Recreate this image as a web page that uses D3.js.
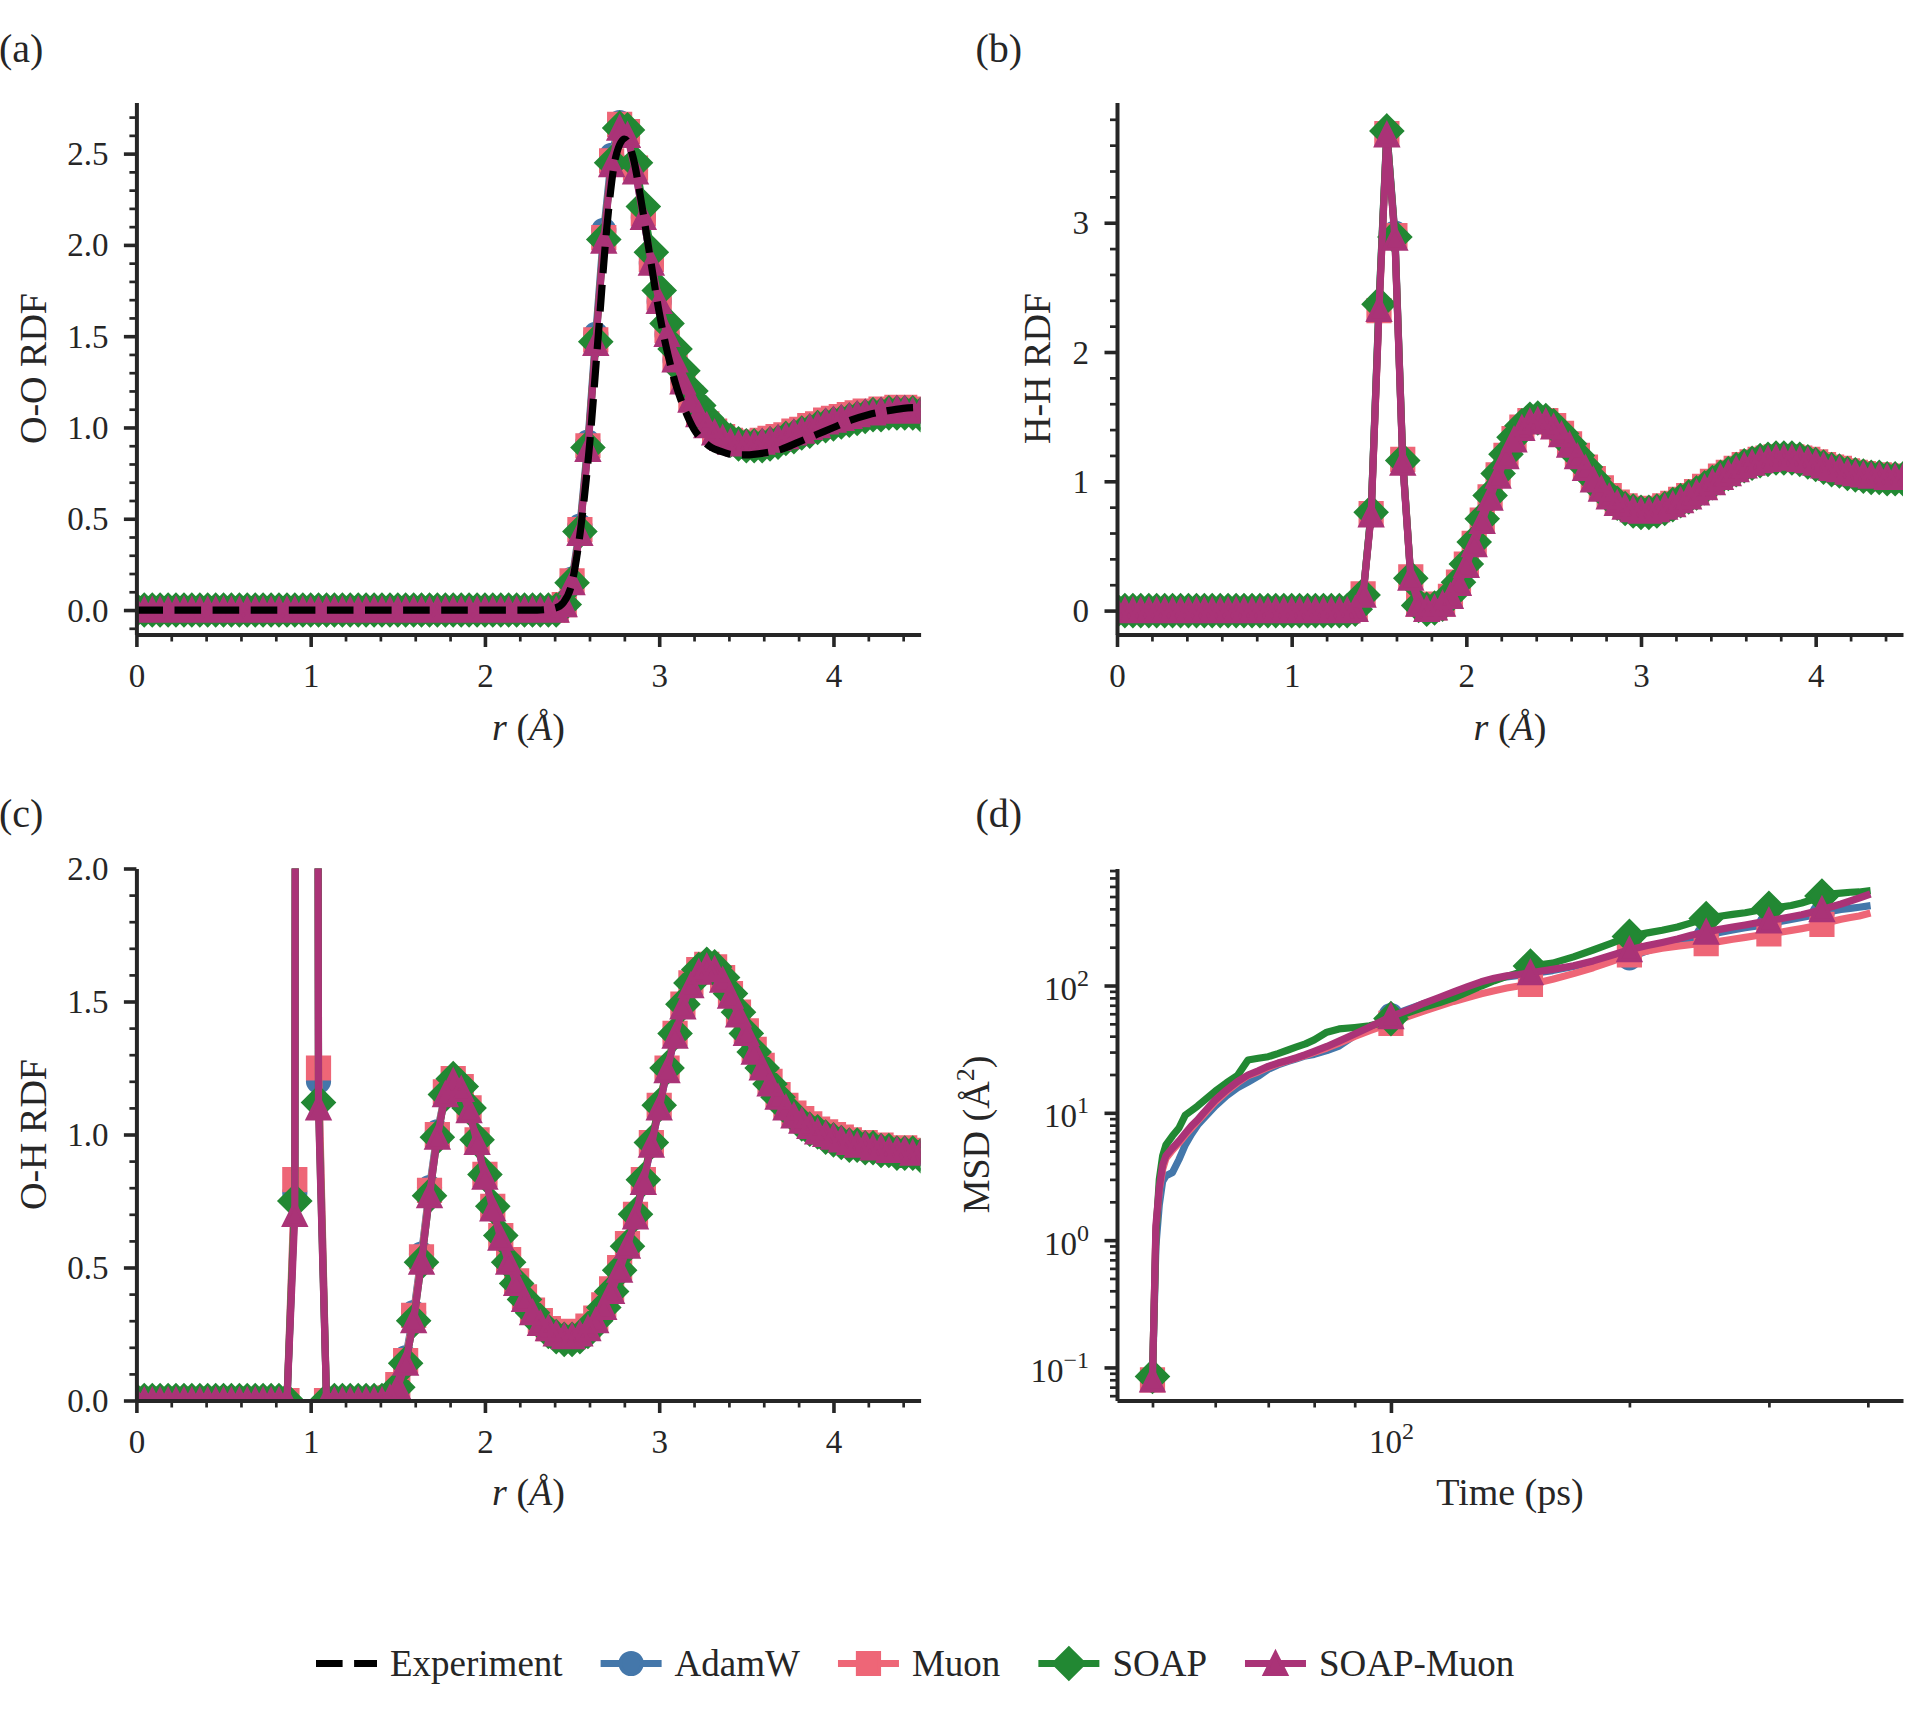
<!DOCTYPE html>
<html>
<head>
<meta charset="utf-8">
<script src="https://cdn.jsdelivr.net/npm/d3@7"></script>
<style>
  body { margin: 0; background: #fff; }
  svg { display: block; }
</style>
</head>
<body>
<svg id="fig" width="1928" height="1725"></svg>
<script>
// ---------------- data ----------------
var optNames = ["AdamW", "Muon", "SOAP", "SOAP-Muon"];

// r grid of the simulated RDFs (Å)
var rGrid = [
  0, 0.045, 0.091, 0.136, 0.182, 0.227, 0.273, 0.318, 0.364, 0.409,
  0.455, 0.5, 0.545, 0.591, 0.636, 0.682, 0.727, 0.773, 0.818, 0.864,
  0.909, 0.955, 1.0, 1.045, 1.091, 1.136, 1.182, 1.227, 1.273, 1.318,
  1.364, 1.409, 1.455, 1.5, 1.545, 1.591, 1.636, 1.682, 1.727, 1.773,
  1.818, 1.864, 1.909, 1.955, 2.0, 2.045, 2.091, 2.136, 2.182, 2.227,
  2.273, 2.318, 2.364, 2.409, 2.455, 2.5, 2.545, 2.591, 2.636, 2.682,
  2.727, 2.773, 2.818, 2.864, 2.909, 2.955, 3.0, 3.045, 3.091, 3.136,
  3.182, 3.227, 3.273, 3.318, 3.364, 3.409, 3.455, 3.5, 3.545, 3.591,
  3.636, 3.682, 3.727, 3.773, 3.818, 3.864, 3.909, 3.955, 4.0, 4.045,
  4.091, 4.136, 4.182, 4.227, 4.273, 4.318, 4.364, 4.409, 4.455, 4.5
];

// (a) O-O RDF
var ooAdamW = [
  0, 0, 0, 0, 0, 0, 0, 0, 0, 0,
  0, 0, 0, 0, 0, 0, 0, 0, 0, 0,
  0, 0, 0, 0, 0, 0, 0, 0, 0, 0,
  0, 0, 0, 0, 0, 0, 0, 0, 0, 0,
  0, 0, 0, 0, 0, 0, 0, 0, 0, 0,
  0, 0, 0, 0, 0.04, 0.17, 0.46, 0.92, 1.51, 2.08,
  2.49, 2.67, 2.61, 2.41, 2.15, 1.90, 1.69, 1.51, 1.37, 1.25,
  1.15, 1.07, 1.01, 0.97, 0.94, 0.92, 0.91, 0.91, 0.92, 0.92,
  0.93, 0.95, 0.96, 0.97, 0.99, 1.00, 1.02, 1.03, 1.04, 1.05,
  1.06, 1.07, 1.08, 1.09, 1.09, 1.10, 1.10, 1.10, 1.10, 1.09
];
var ooMuon = [
  0, 0, 0, 0, 0, 0, 0, 0, 0, 0,
  0, 0, 0, 0, 0, 0, 0, 0, 0, 0,
  0, 0, 0, 0, 0, 0, 0, 0, 0, 0,
  0, 0, 0, 0, 0, 0, 0, 0, 0, 0,
  0, 0, 0, 0, 0, 0, 0, 0, 0, 0,
  0, 0, 0, 0, 0.03, 0.16, 0.44, 0.90, 1.48, 2.04,
  2.46, 2.66, 2.62, 2.42, 2.17, 1.92, 1.71, 1.53, 1.38, 1.26,
  1.16, 1.08, 1.02, 0.98, 0.95, 0.93, 0.92, 0.92, 0.92, 0.93,
  0.94, 0.95, 0.96, 0.98, 0.99, 1.01, 1.02, 1.04, 1.05, 1.06,
  1.07, 1.08, 1.09, 1.09, 1.10, 1.10, 1.11, 1.11, 1.10, 1.10
];
var ooSOAP = [
  0, 0, 0, 0, 0, 0, 0, 0, 0, 0,
  0, 0, 0, 0, 0, 0, 0, 0, 0, 0,
  0, 0, 0, 0, 0, 0, 0, 0, 0, 0,
  0, 0, 0, 0, 0, 0, 0, 0, 0, 0,
  0, 0, 0, 0, 0, 0, 0, 0, 0, 0,
  0, 0, 0, 0, 0.03, 0.15, 0.43, 0.89, 1.47, 2.03,
  2.45, 2.64, 2.63, 2.45, 2.21, 1.96, 1.75, 1.57, 1.43, 1.31,
  1.20, 1.12, 1.05, 1.00, 0.96, 0.93, 0.91, 0.90, 0.90, 0.90,
  0.91, 0.92, 0.94, 0.95, 0.97, 0.98, 1.00, 1.01, 1.02, 1.03,
  1.04, 1.05, 1.06, 1.07, 1.07, 1.08, 1.08, 1.08, 1.08, 1.07
];
var ooSOAPMuon = [
  0, 0, 0, 0, 0, 0, 0, 0, 0, 0,
  0, 0, 0, 0, 0, 0, 0, 0, 0, 0,
  0, 0, 0, 0, 0, 0, 0, 0, 0, 0,
  0, 0, 0, 0, 0, 0, 0, 0, 0, 0,
  0, 0, 0, 0, 0, 0, 0, 0, 0, 0,
  0, 0, 0, 0, 0.03, 0.15, 0.42, 0.88, 1.46, 2.02,
  2.44, 2.64, 2.60, 2.40, 2.15, 1.90, 1.69, 1.51, 1.37, 1.25,
  1.15, 1.07, 1.01, 0.97, 0.94, 0.92, 0.91, 0.91, 0.91, 0.92,
  0.93, 0.94, 0.95, 0.97, 0.98, 1.00, 1.01, 1.03, 1.04, 1.05,
  1.06, 1.07, 1.08, 1.08, 1.09, 1.09, 1.10, 1.10, 1.09, 1.09
];
// experimental O-O RDF
var expR = [0, 0.5, 1.0, 1.5, 2.0, 2.3, 2.4, 2.45, 2.5, 2.55, 2.6, 2.65, 2.7, 2.75, 2.8,
            2.85, 2.9, 2.95, 3.0, 3.05, 3.1, 3.15, 3.2, 3.25, 3.3, 3.35, 3.4, 3.45, 3.5,
            3.6, 3.7, 3.8, 3.9, 4.0, 4.1, 4.2, 4.3, 4.4, 4.5];
var expOO = [0, 0, 0, 0, 0, 0, 0.01, 0.04, 0.15, 0.45, 0.9, 1.5, 2.1, 2.48, 2.58,
             2.48, 2.22, 1.92, 1.63, 1.4, 1.22, 1.09, 0.99, 0.93, 0.89, 0.87, 0.855, 0.85, 0.85,
             0.86, 0.88, 0.92, 0.96, 1.0, 1.04, 1.07, 1.09, 1.105, 1.11];

// (b) H-H RDF
var hhAdamW = [
  0, 0, 0, 0, 0, 0, 0, 0, 0, 0,
  0, 0, 0, 0, 0, 0, 0, 0, 0, 0,
  0, 0, 0, 0, 0, 0, 0, 0, 0, 0,
  0.01, 0.13, 0.76, 2.36, 3.70, 2.92, 1.16, 0.26, 0.05, 0.01,
  0.02, 0.05, 0.11, 0.21, 0.35, 0.52, 0.70, 0.88, 1.05, 1.20,
  1.33, 1.42, 1.46, 1.47, 1.46, 1.42, 1.36, 1.28, 1.19, 1.10,
  1.01, 0.94, 0.88, 0.83, 0.80, 0.78, 0.77, 0.77, 0.78, 0.80,
  0.82, 0.85, 0.88, 0.92, 0.96, 1.00, 1.03, 1.07, 1.10, 1.12,
  1.14, 1.16, 1.18, 1.18, 1.19, 1.18, 1.17, 1.16, 1.14, 1.12,
  1.10, 1.09, 1.07, 1.06, 1.05, 1.04, 1.04, 1.03, 1.03, 1.03
];
var hhMuon = [
  0, 0, 0, 0, 0, 0, 0, 0, 0, 0,
  0, 0, 0, 0, 0, 0, 0, 0, 0, 0,
  0, 0, 0, 0, 0, 0, 0, 0, 0, 0,
  0.01, 0.13, 0.75, 2.32, 3.69, 2.90, 1.17, 0.26, 0.05, 0.01,
  0.02, 0.05, 0.11, 0.22, 0.36, 0.52, 0.70, 0.88, 1.05, 1.20,
  1.33, 1.42, 1.47, 1.48, 1.47, 1.43, 1.37, 1.29, 1.20, 1.11,
  1.02, 0.95, 0.89, 0.84, 0.81, 0.79, 0.78, 0.78, 0.79, 0.81,
  0.83, 0.86, 0.89, 0.92, 0.96, 1.00, 1.04, 1.07, 1.10, 1.13,
  1.15, 1.17, 1.18, 1.19, 1.19, 1.19, 1.18, 1.17, 1.15, 1.13,
  1.11, 1.10, 1.08, 1.07, 1.06, 1.05, 1.05, 1.04, 1.04, 1.04
];
var hhSOAP = [
  0, 0, 0, 0, 0, 0, 0, 0, 0, 0,
  0, 0, 0, 0, 0, 0, 0, 0, 0, 0,
  0, 0, 0, 0, 0, 0, 0, 0, 0, 0,
  0.01, 0.12, 0.76, 2.37, 3.71, 2.89, 1.16, 0.25, 0.04, 0.01,
  0.02, 0.05, 0.12, 0.22, 0.36, 0.53, 0.71, 0.89, 1.06, 1.21,
  1.34, 1.43, 1.48, 1.49, 1.47, 1.43, 1.37, 1.29, 1.20, 1.11,
  1.02, 0.94, 0.88, 0.83, 0.79, 0.77, 0.76, 0.76, 0.77, 0.79,
  0.82, 0.85, 0.88, 0.91, 0.95, 0.99, 1.03, 1.06, 1.09, 1.12,
  1.14, 1.16, 1.17, 1.18, 1.18, 1.18, 1.17, 1.15, 1.13, 1.11,
  1.09, 1.08, 1.06, 1.05, 1.04, 1.03, 1.03, 1.02, 1.02, 1.02
];
var hhSOAPMuon = [
  0, 0, 0, 0, 0, 0, 0, 0, 0, 0,
  0, 0, 0, 0, 0, 0, 0, 0, 0, 0,
  0, 0, 0, 0, 0, 0, 0, 0, 0, 0,
  0.01, 0.12, 0.74, 2.33, 3.68, 2.88, 1.14, 0.25, 0.05, 0.01,
  0.02, 0.05, 0.11, 0.21, 0.35, 0.51, 0.69, 0.87, 1.04, 1.19,
  1.32, 1.41, 1.46, 1.47, 1.46, 1.42, 1.36, 1.28, 1.19, 1.10,
  1.01, 0.94, 0.88, 0.83, 0.80, 0.78, 0.77, 0.77, 0.78, 0.80,
  0.82, 0.85, 0.88, 0.91, 0.95, 0.99, 1.03, 1.06, 1.09, 1.12,
  1.14, 1.16, 1.17, 1.18, 1.18, 1.18, 1.17, 1.16, 1.14, 1.12,
  1.10, 1.09, 1.07, 1.06, 1.05, 1.04, 1.04, 1.03, 1.03, 1.03
];

// (c) O-H RDF
var ohAdamW = [
  0, 0, 0, 0, 0, 0, 0, 0, 0, 0,
  0, 0, 0, 0, 0, 0, 0, 0, 0, 0,
  0.78, 24.0, 21.0, 1.20, 0, 0, 0, 0, 0, 0,
  0, 0, 0.01, 0.06, 0.16, 0.33, 0.55, 0.80, 1.01, 1.16,
  1.21, 1.17, 1.09, 0.97, 0.84, 0.72, 0.61, 0.52, 0.44, 0.38,
  0.33, 0.29, 0.27, 0.25, 0.24, 0.24, 0.25, 0.27, 0.30, 0.35,
  0.41, 0.49, 0.58, 0.69, 0.82, 0.96, 1.10, 1.24, 1.37, 1.48,
  1.56, 1.61, 1.63, 1.62, 1.58, 1.52, 1.45, 1.38, 1.31, 1.25,
  1.19, 1.14, 1.10, 1.07, 1.05, 1.03, 1.01, 1.00, 0.99, 0.98,
  0.97, 0.96, 0.96, 0.95, 0.95, 0.94, 0.94, 0.94, 0.93, 0.93
];
var ohMuon = [
  0, 0, 0, 0, 0, 0, 0, 0, 0, 0,
  0, 0, 0, 0, 0, 0, 0, 0, 0, 0,
  0.83, 23.5, 21.5, 1.25, 0, 0, 0, 0, 0, 0,
  0, 0, 0.01, 0.06, 0.15, 0.32, 0.54, 0.79, 1.00, 1.16,
  1.21, 1.18, 1.10, 0.98, 0.85, 0.73, 0.62, 0.53, 0.45, 0.39,
  0.34, 0.30, 0.27, 0.26, 0.25, 0.25, 0.26, 0.28, 0.31, 0.36,
  0.42, 0.50, 0.59, 0.70, 0.83, 0.97, 1.11, 1.25, 1.38, 1.49,
  1.57, 1.62, 1.64, 1.63, 1.59, 1.53, 1.46, 1.39, 1.32, 1.26,
  1.20, 1.15, 1.11, 1.08, 1.06, 1.04, 1.02, 1.01, 1.00, 0.99,
  0.98, 0.97, 0.97, 0.96, 0.96, 0.95, 0.95, 0.95, 0.94, 0.94
];
var ohSOAP = [
  0, 0, 0, 0, 0, 0, 0, 0, 0, 0,
  0, 0, 0, 0, 0, 0, 0, 0, 0, 0,
  0.75, 24.5, 20.5, 1.12, 0, 0, 0, 0, 0, 0,
  0, 0, 0.01, 0.05, 0.14, 0.30, 0.52, 0.77, 0.99, 1.15,
  1.21, 1.18, 1.10, 0.98, 0.85, 0.73, 0.62, 0.52, 0.44, 0.38,
  0.33, 0.29, 0.26, 0.24, 0.23, 0.23, 0.24, 0.26, 0.30, 0.35,
  0.41, 0.49, 0.58, 0.70, 0.83, 0.97, 1.11, 1.25, 1.38, 1.49,
  1.57, 1.62, 1.64, 1.63, 1.59, 1.53, 1.46, 1.38, 1.31, 1.25,
  1.19, 1.14, 1.10, 1.07, 1.04, 1.02, 1.01, 0.99, 0.98, 0.97,
  0.96, 0.96, 0.95, 0.95, 0.94, 0.94, 0.93, 0.93, 0.93, 0.92
];
var ohSOAPMuon = [
  0, 0, 0, 0, 0, 0, 0, 0, 0, 0,
  0, 0, 0, 0, 0, 0, 0, 0, 0, 0,
  0.70, 25.0, 20.0, 1.10, 0, 0, 0, 0, 0, 0,
  0, 0, 0.01, 0.05, 0.14, 0.30, 0.52, 0.77, 0.99, 1.15,
  1.20, 1.17, 1.09, 0.97, 0.84, 0.72, 0.61, 0.52, 0.44, 0.38,
  0.33, 0.29, 0.27, 0.25, 0.24, 0.24, 0.25, 0.27, 0.30, 0.35,
  0.41, 0.49, 0.58, 0.69, 0.82, 0.96, 1.10, 1.24, 1.37, 1.48,
  1.56, 1.61, 1.63, 1.62, 1.58, 1.52, 1.45, 1.38, 1.31, 1.25,
  1.19, 1.14, 1.10, 1.07, 1.05, 1.03, 1.01, 1.00, 0.99, 0.98,
  0.97, 0.96, 0.96, 0.95, 0.95, 0.94, 0.94, 0.94, 0.93, 0.93
];

// (d) MSD vs time
var msdTime = [50, 50.5, 51, 51.5, 52, 53, 54, 55, 56, 57, 58, 60, 62, 64, 66, 68, 70, 72, 74, 76, 78, 80,
               83, 86, 90, 94, 98, 100, 105, 110, 115, 120, 125, 130, 135, 140, 145, 150,
               160, 170, 180, 190, 200, 210, 220, 230, 240, 250, 260, 270, 280, 290, 300,
               310, 320, 330, 340, 350, 360, 370, 380, 390, 399];
var msdAdamW = [0.08, 0.9, 1.9, 2.9, 3.2, 3.4, 4.3, 5.6, 6.8, 8.0, 9.0, 11.3, 13.6, 15.7, 17.4, 19.4, 22.0, 23.8, 25.3, 26.6, 28.0, 28.8,
                30.8, 33.4, 40.5, 45.8, 51.0, 58.0, 65.0, 72.0, 79.0, 87.0, 96.0, 105, 112, 117, 120, 124,
                131, 141, 152, 170, 165, 186, 204, 218, 232, 247, 261, 273, 284, 294, 305,
                318, 330, 342, 355, 369, 383, 395, 404, 412, 420];
var msdMuon = [0.08, 1.2, 2.5, 3.6, 4.4, 5.1, 5.8, 6.7, 7.6, 8.6, 9.7, 12.2, 14.7, 17.2, 19.6, 21.0, 22.8, 24.3, 25.6, 26.9, 28.3, 29.8,
               32.3, 35.3, 39.8, 44.2, 48.5, 50.5, 57.0, 63.0, 69.0, 75.0, 80.5, 86.0, 91.0, 95.5, 99.0, 102,
               112, 124, 138, 155, 174, 186, 196, 204, 210, 213, 222, 231, 239, 247, 254,
               262, 271, 280, 290, 302, 318, 331, 342, 352, 365];
var msdSOAP = [0.085, 1.1, 3.0, 4.6, 5.6, 6.6, 7.6, 9.6, 10.4, 11.3, 12.4, 14.8, 17.2, 19.6, 26.0, 26.8, 27.6, 29.2, 31.0, 32.9, 34.8, 37.4,
               43.0, 45.6, 46.8, 48.2, 51.5, 55.0, 61.0, 67.5, 73.0, 80.0, 89.0, 99.0, 109, 118, 126, 142,
               150, 168, 190, 215, 243, 258, 272, 288, 312, 336, 350, 362, 373, 388, 404,
               413, 425, 445, 472, 505, 524, 532, 540, 543, 552];
var msdSOAPMuon = [0.08, 1.3, 2.6, 3.9, 4.6, 5.3, 6.0, 6.9, 7.9, 8.8, 10.0, 12.6, 15.1, 17.6, 19.8, 21.4, 23.2, 24.6, 25.8, 27.1, 28.6, 30.4,
                   33.2, 36.6, 41.6, 47.2, 53.5, 57.0, 64.0, 72.5, 80.5, 89.0, 98.0, 107, 114, 119, 122, 126,
                   134, 143, 156, 173, 191, 205, 218, 232, 249, 263, 276, 288, 299, 311, 322,
                   335, 347, 360, 376, 394, 416, 437, 461, 487, 512];
var msdMarkTimes = [50, 100, 150, 200, 250, 300, 350];

// ticks
var rTicks = [0, 1, 2, 3, 4];
var ooTicks = [0, 0.5, 1.0, 1.5, 2.0, 2.5];
var hhTicks = [0, 1, 2, 3];
var ohTicks = [0, 0.5, 1.0, 1.5, 2.0];
var msdYTicks = [0.1, 1, 10, 100];
var msdYTickExp = ["\u22121", "0", "1", "2"];
var msdXTicks = [100];
var msdXTickExp = ["2"];
var msdXMinor = [50, 60, 70, 80, 90, 200, 300, 400];

// ---------------- style ----------------
var colors = { "AdamW": "#4477AA", "Muon": "#EE6677", "SOAP": "#228833", "SOAP-Muon": "#AA3377" };
var shapes = { "AdamW": "circle", "Muon": "square", "SOAP": "diamond", "SOAP-Muon": "triangle" };
var FONT = '"Liberation Serif", "Times New Roman", serif';
var INK = "#262626";
var MS = 21.6, MEW = 3.6, LW = 7.2;
var DASH = "26.6,11.5";

var svg = d3.select("#fig");

function markerPath(shape, cx, cy) {
  var h = MS / 2;
  switch (shape) {
    case "circle":
      return "M" + (cx - h) + "," + cy + "a" + h + "," + h + " 0 1,0 " + (2 * h) + ",0" +
             "a" + h + "," + h + " 0 1,0 " + (-2 * h) + ",0Z";
    case "square":
      return "M" + (cx - h) + "," + (cy - h) + "h" + MS + "v" + MS + "h" + (-MS) + "Z";
    case "diamond":
      var d = h * Math.SQRT2;
      return "M" + cx + "," + (cy - d) + "L" + (cx + d) + "," + cy + "L" + cx + "," + (cy + d) +
             "L" + (cx - d) + "," + cy + "Z";
    case "triangle":
      return "M" + cx + "," + (cy - h) + "L" + (cx + h) + "," + (cy + h) + "L" + (cx - h) + "," + (cy + h) + "Z";
  }
}

function zip(xs, ys) {
  return xs.map(function(v, i) { return [v, ys[i]]; });
}

function drawSeries(plot, x, y, pts, marks, name) {
  var line = d3.line().x(function(d) { return x(d[0]); }).y(function(d) { return y(d[1]); });
  plot.append("path")
      .attr("d", line(pts))
      .attr("fill", "none")
      .attr("stroke", colors[name])
      .attr("stroke-width", LW)
      .attr("stroke-linejoin", "round")
      .attr("stroke-linecap", "square");
  plot.append("path")
      .attr("d", marks.map(function(d) { return markerPath(shapes[name], x(d[0]), y(d[1])); }).join(""))
      .attr("fill", colors[name])
      .attr("stroke", colors[name])
      .attr("stroke-width", MEW)
      .attr("stroke-linejoin", "miter");
}

function styleAxis(g, major) {
  g.attr("font-family", FONT).attr("font-size", 33).style("color", INK);
  g.select(".domain").attr("stroke-width", 4);
  g.selectAll(".tick line").attr("stroke-width", major ? 3.6 : 2.7);
  g.selectAll(".tick text").attr("fill", INK);
}

function drawAxes(o) {
  // minor ticks first
  var gxm = svg.append("g").attr("transform", "translate(0," + o.bottom + ")")
    .call(d3.axisBottom(o.x).tickValues(o.xMinor).tickSize(7).tickSizeOuter(0).tickFormat(""));
  styleAxis(gxm, false);
  gxm.select(".domain").remove();
  var gym = svg.append("g").attr("transform", "translate(" + o.left + ",0)")
    .call(d3.axisLeft(o.y).tickValues(o.yMinor).tickSize(7).tickSizeOuter(0).tickFormat(""));
  styleAxis(gym, false);
  gym.select(".domain").remove();

  var gx = svg.append("g").attr("transform", "translate(0," + o.bottom + ")")
    .call(d3.axisBottom(o.x).tickValues(o.xMajor).tickSize(12.5).tickSizeOuter(0).tickFormat(o.xFmt));
  styleAxis(gx, true);
  gx.selectAll(".tick text").attr("y", 52).attr("dy", null);

  var gy = svg.append("g").attr("transform", "translate(" + o.left + ",0)")
    .call(d3.axisLeft(o.y).tickValues(o.yMajor).tickSize(12.5).tickSizeOuter(0).tickFormat(o.yFmt));
  styleAxis(gy, true);
  gy.selectAll(".tick text").attr("x", -28).attr("dy", null).attr("y", o.yBase);
  return { gx: gx, gy: gy };
}

function makeClip(id, o) {
  svg.append("clipPath").attr("id", id).append("rect")
    .attr("x", o.left).attr("y", o.top)
    .attr("width", o.right - o.left).attr("height", o.bottom - o.top);
  return svg.append("g").attr("clip-path", "url(#" + id + ")");
}

function addText(x, y, size, parts, anchor, rotate) {
  var t = svg.append("text")
    .attr("x", x).attr("y", y)
    .attr("font-family", FONT).attr("font-size", size)
    .attr("fill", INK)
    .attr("text-anchor", anchor || "start");
  if (rotate) t.attr("transform", "rotate(-90," + x + "," + y + ")");
  parts.forEach(function(p) {
    var s = t.append("tspan").text(p.t);
    if (p.i) s.attr("font-style", "italic");
    if (p.dy) s.attr("dy", p.dy);
    if (p.fs) s.attr("font-size", p.fs);
  });
  return t;
}

var fmt1 = d3.format(".1f");
var fmt0 = d3.format("d");

// ---------------- layout ----------------
var colL = [136.4, 920.6], colR = [1117, 1903];
var rowT = [102.5, 634.5], rowB = [868.5, 1400.5];

function rdfPanel(id, xr, yr, ydom, series, yMajor, yMinorStep, yFmt, exp) {
  var o = { left: xr[0], right: xr[1], top: yr[0], bottom: yr[1] };
  o.x = d3.scaleLinear().domain([0, 4.5]).range([o.left, o.right]);
  o.y = d3.scaleLinear().domain(ydom).range([o.bottom, o.top]);
  var plot = makeClip(id, o);
  optNames.forEach(function(n, i) {
    var pts = zip(rGrid, series[i]);
    drawSeries(plot, o.x, o.y, pts, pts, n);
  });
  if (exp) {
    plot.append("path")
      .attr("d", d3.line().curve(d3.curveMonotoneX)
        .x(function(d) { return o.x(d[0]); }).y(function(d) { return o.y(d[1]); })(zip(expR, expOO)))
      .attr("fill", "none").attr("stroke", "#000").attr("stroke-width", LW)
      .attr("stroke-dasharray", DASH).attr("stroke-linecap", "butt").attr("stroke-linejoin", "round");
  }
  o.xMajor = rTicks;
  o.xMinor = d3.range(0.2, 4.5, 0.2).filter(function(v) { return Math.abs(v - Math.round(v)) > 1e-6; });
  o.yMajor = yMajor;
  o.yMinor = d3.range(Math.ceil(ydom[0] / yMinorStep - 1e-6) * yMinorStep, ydom[1], yMinorStep)
    .filter(function(v) { return yMajor.every(function(m) { return Math.abs(v - m) > 1e-6; }); });
  o.xFmt = fmt0;
  o.yFmt = yFmt;
  o.yBase = 11;
  drawAxes(o);
  return o;
}

var pa = rdfPanel("ca", colL, rowT, [-0.134, 2.78], [ooAdamW, ooMuon, ooSOAP, ooSOAPMuon], ooTicks, 0.1, fmt1, true);
var pb = rdfPanel("cb", colR, rowT, [-0.185, 3.93], [hhAdamW, hhMuon, hhSOAP, hhSOAPMuon], hhTicks, 0.2, fmt0, false);
var pc = rdfPanel("cc", colL, rowB, [0, 2.0], [ohAdamW, ohMuon, ohSOAP, ohSOAPMuon], ohTicks, 0.1, fmt1, false);

// (d) MSD, log-log
(function() {
  var o = { left: colR[0], right: colR[1], top: rowB[0], bottom: rowB[1] };
  o.x = d3.scaleLog().domain([45.1, 443]).range([o.left, o.right]);
  o.y = d3.scaleLog().domain([0.055, 830]).range([o.bottom, o.top]);
  var plot = makeClip("cd", o);
  var msd = [msdAdamW, msdMuon, msdSOAP, msdSOAPMuon];
  optNames.forEach(function(n, i) {
    var pts = zip(msdTime, msd[i]);
    var marks = pts.filter(function(d) { return msdMarkTimes.indexOf(d[0]) >= 0; });
    drawSeries(plot, o.x, o.y, pts, marks, n);
  });
  o.xMajor = msdXTicks;
  o.xMinor = msdXMinor;
  o.yMajor = msdYTicks;
  o.yMinor = [];
  [-2, -1, 0, 1, 2].forEach(function(e) {
    for (var m = 2; m <= 9; m++) {
      var v = m * Math.pow(10, e);
      if (v > 0.055 && v < 830) o.yMinor.push(v);
    }
  });
  o.xFmt = function() { return ""; };
  o.yFmt = function() { return ""; };
  o.yBase = 14;
  var ax = drawAxes(o);
  ax.gx.selectAll(".tick text").each(function(d) {
    var t = d3.select(this);
    t.append("tspan").text("10");
    t.append("tspan").attr("dy", -14).attr("font-size", 24).text(msdXTickExp[msdXTicks.indexOf(d)]);
  });
  ax.gy.selectAll(".tick text").each(function(d) {
    var t = d3.select(this);
    t.append("tspan").text("10");
    t.append("tspan").attr("dy", -14).attr("font-size", 24).text(msdYTickExp[msdYTicks.indexOf(d)]);
  });
})();

// ---------------- labels ----------------
addText(-1, 62, 40, [{ t: "(a)" }]);
addText(975.5, 62, 40, [{ t: "(b)" }]);
addText(-1, 827, 40, [{ t: "(c)" }]);
addText(975.5, 827, 40, [{ t: "(d)" }]);

var rLabel = [{ t: "r", i: true }, { t: " (" }, { t: "Å", i: true }, { t: ")" }];
addText((colL[0] + colL[1]) / 2, 740, 38, rLabel, "middle");
addText((colR[0] + colR[1]) / 2, 740, 38, rLabel, "middle");
addText((colL[0] + colL[1]) / 2, 1505, 38, rLabel, "middle");
addText((colR[0] + colR[1]) / 2, 1505, 38, [{ t: "Time (ps)" }], "middle");

addText(46, (rowT[0] + rowT[1]) / 2, 38, [{ t: "O-O RDF" }], "middle", true);
addText(1050, (rowT[0] + rowT[1]) / 2, 38, [{ t: "H-H RDF" }], "middle", true);
addText(46, (rowB[0] + rowB[1]) / 2, 38, [{ t: "O-H RDF" }], "middle", true);
addText(989, (rowB[0] + rowB[1]) / 2, 38, [{ t: "MSD (Å" }, { t: "2", dy: -15, fs: 26 }, { t: ")", dy: 15 }], "middle", true);

// ---------------- legend ----------------
(function() {
  var ly = 1663.5, x = 316, handle = 61, pad = 13, gap = 38;
  var entries = [{ name: "Experiment" }].concat(optNames.map(function(n) { return { name: n }; }));
  entries.forEach(function(e) {
    var g = svg.append("g");
    if (e.name === "Experiment") {
      g.append("line").attr("x1", x).attr("x2", x + handle).attr("y1", ly).attr("y2", ly)
        .attr("stroke", "#000").attr("stroke-width", LW).attr("stroke-dasharray", DASH);
    } else {
      g.append("line").attr("x1", x).attr("x2", x + handle).attr("y1", ly).attr("y2", ly)
        .attr("stroke", colors[e.name]).attr("stroke-width", LW);
      g.append("path").attr("d", markerPath(shapes[e.name], x + handle / 2, ly))
        .attr("fill", colors[e.name]).attr("stroke", colors[e.name])
        .attr("stroke-width", MEW).attr("stroke-linejoin", "miter");
    }
    var t = g.append("text").attr("x", x + handle + pad).attr("y", ly + 12.5)
      .attr("font-family", FONT).attr("font-size", 37).attr("fill", INK).text(e.name);
    x = x + handle + pad + t.node().getComputedTextLength() + gap;
  });
})();
</script>
</body>
</html>
